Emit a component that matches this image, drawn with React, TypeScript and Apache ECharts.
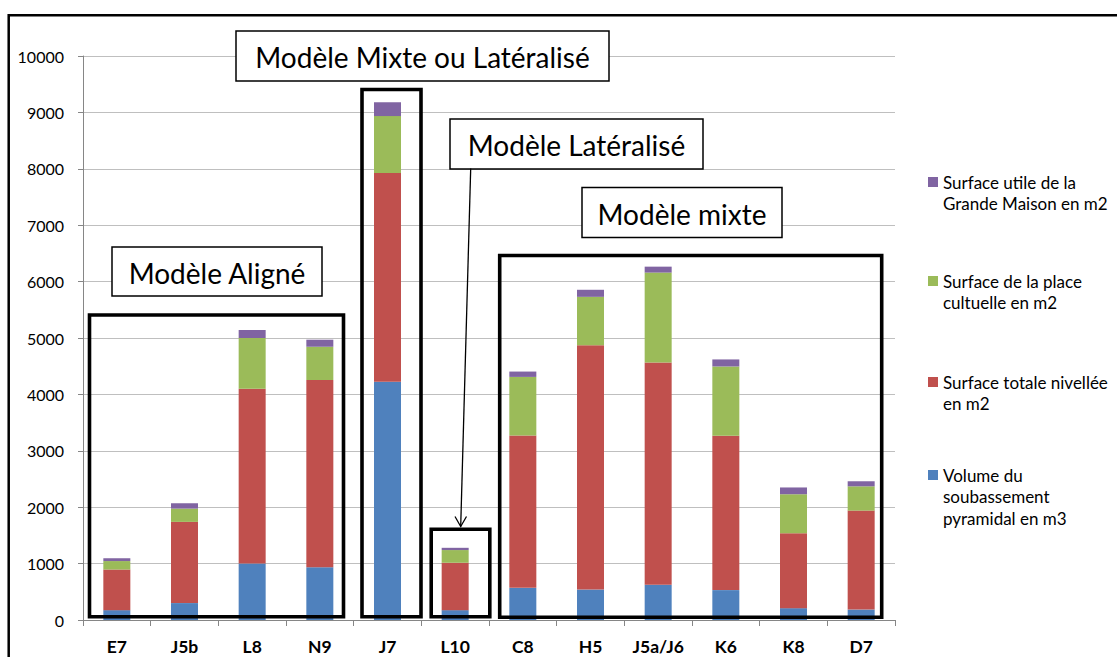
import React, { useEffect, useRef } from "react";
import * as echarts from "echarts";

const categories = ["E7", "J5b", "L8", "N9", "J7", "L10", "C8", "H5", "J5a/J6", "K6", "K8", "D7"];
const volumeSoubassement = [175, 300, 1000, 935, 4225, 175, 570, 540, 625, 530, 210, 185];
const surfaceNivellee = [720, 1440, 3100, 3320, 3700, 840, 2700, 4330, 3940, 2735, 1330, 1755];
const surfacePlace = [150, 235, 900, 590, 1010, 225, 1040, 860, 1595, 1230, 690, 430];
const surfaceGrandeMaison = [50, 95, 140, 125, 245, 40, 95, 125, 105, 125, 120, 90];

const seriesNames = [
  "Volume du\nsoubassement\npyramidal en m3",
  "Surface totale nivellée\nen m2",
  "Surface de la place\ncultuelle en m2",
  "Surface utile de la\nGrande Maison en m2",
];
const seriesColors = ["#4F81BD", "#C0504D", "#9BBB59", "#8064A2"];
const yMin = 0;
const yMax = 10000;
const yStep = 1000;

const annotations = [
  { label: "Modèle Mixte ou Latéralisé", x: 236, y: 31, w: 373, h: 50 },
  { label: "Modèle Latéralisé", x: 450, y: 119, w: 253, h: 50 },
  { label: "Modèle mixte", x: 582, y: 187.5, w: 200, h: 50 },
  { label: "Modèle Aligné", x: 112, y: 247, w: 210, h: 49 },
];
const groupBoxes = [
  { x: 89.5, y: 315, w: 254, h: 301.7 },
  { x: 362, y: 89.5, w: 59, h: 527.2 },
  { x: 431.2, y: 529.3, w: 58.6, h: 87.4 },
  { x: 499.7, y: 255.5, w: 382, h: 361.8 },
];

const FONT = "Lato, 'Open Sans', sans-serif";

export default function App() {
  const ref = useRef<HTMLDivElement>(null);
  useEffect(() => {
    if (!ref.current) return;
    const chart = echarts.init(ref.current, undefined, { renderer: "svg" });
    const values = [volumeSoubassement, surfaceNivellee, surfacePlace, surfaceGrandeMaison];
    const LH = 21.7;
    const legendSpec = [
      { idx: 3, center: 182 },
      { idx: 2, center: 281 },
      { idx: 1, center: 382 },
      { idx: 0, center: 475 },
    ];
    const graphic: any[] = [
      {
        type: "rect",
        z: 100,
        shape: { x: 8.7, y: 15.3, width: 1300, height: 800 },
        style: { fill: "none", stroke: "#000", lineWidth: 2.5 },
      },
    ];
    groupBoxes.forEach((b) =>
      graphic.push({
        type: "rect",
        z: 100,
        shape: { x: b.x, y: b.y, width: b.w, height: b.h },
        style: { fill: "none", stroke: "#000", lineWidth: 3.6 },
      })
    );
    annotations.forEach((a) => {
      graphic.push({
        type: "rect",
        z: 101,
        shape: { x: a.x, y: a.y, width: a.w, height: a.h },
        style: { fill: "#fff", stroke: "#000", lineWidth: 1.5 },
      });
      graphic.push({
        type: "text",
        z: 102,
        x: a.x + a.w / 2,
        y: a.y + a.h / 2 + 1,
        style: {
          text: a.label,
          fill: "#000",
          font: `28px ${FONT}`,
          align: "center",
          verticalAlign: "middle",
        },
      });
    });
    graphic.push({
      type: "line",
      z: 101,
      shape: { x1: 470.7, y1: 168.5, x2: 460.7, y2: 526.5 },
      style: { stroke: "#000", lineWidth: 1.3 },
    });
    graphic.push({
      type: "polyline",
      z: 101,
      shape: { points: [[455, 516.5], [460.7, 526.5], [466.5, 516.5]] },
      style: { stroke: "#000", lineWidth: 1.3, fill: "none" },
    });

    chart.setOption({
      animation: false,
      textStyle: { fontFamily: FONT },
      grid: { left: 83, right: 222, top: 56, bottom: 37, containLabel: false },
      legend: legendSpec.map((l) => {
        const name = seriesNames[l.idx];
        const n = name.split("\n").length;
        return {
          left: 928,
          top: l.center - ((2 * n - 1) * LH) / 2,
          orient: "vertical",
          padding: 0,
          itemWidth: 10,
          itemHeight: 10,
          icon: "rect",
          selectedMode: false,
          data: [name],
          formatter: (nm: string) => "\n".repeat(n - 1) + nm,
          textStyle: { fontSize: 17, color: "#000", lineHeight: LH, fontFamily: FONT },
        };
      }),
      xAxis: {
        type: "category",
        data: categories,
        axisLine: { lineStyle: { color: "#868686", width: 1 } },
        axisTick: { show: true, length: 6, lineStyle: { color: "#868686" } },
        axisLabel: { fontSize: 17.5, fontWeight: "bold", color: "#000", margin: 17, fontFamily: FONT },
      },
      yAxis: {
        type: "value",
        min: yMin,
        max: yMax,
        interval: yStep,
        axisLine: { show: true, lineStyle: { color: "#868686", width: 1 } },
        axisTick: { show: true, length: 5, lineStyle: { color: "#868686" } },
        splitLine: { lineStyle: { color: "#BFBFBF", width: 1 } },
        axisLabel: {
          fontSize: 16,
          color: "#000",
          margin: 19,
          fontFamily: FONT,
          formatter: (v: number) => String(v),
        },
      },
      series: seriesNames.map((name, i) => ({
        type: "bar",
        name,
        stack: "total",
        barWidth: 27,
        data: values[i],
        itemStyle: { color: seriesColors[i] },
      })),
      graphic,
    });
    return () => chart.dispose();
  }, []);
  return (
    <div
      ref={ref}
      style={{ position: "fixed", left: 0, top: 0, width: 1117, height: 657, background: "#fff" }}
    />
  );
}
